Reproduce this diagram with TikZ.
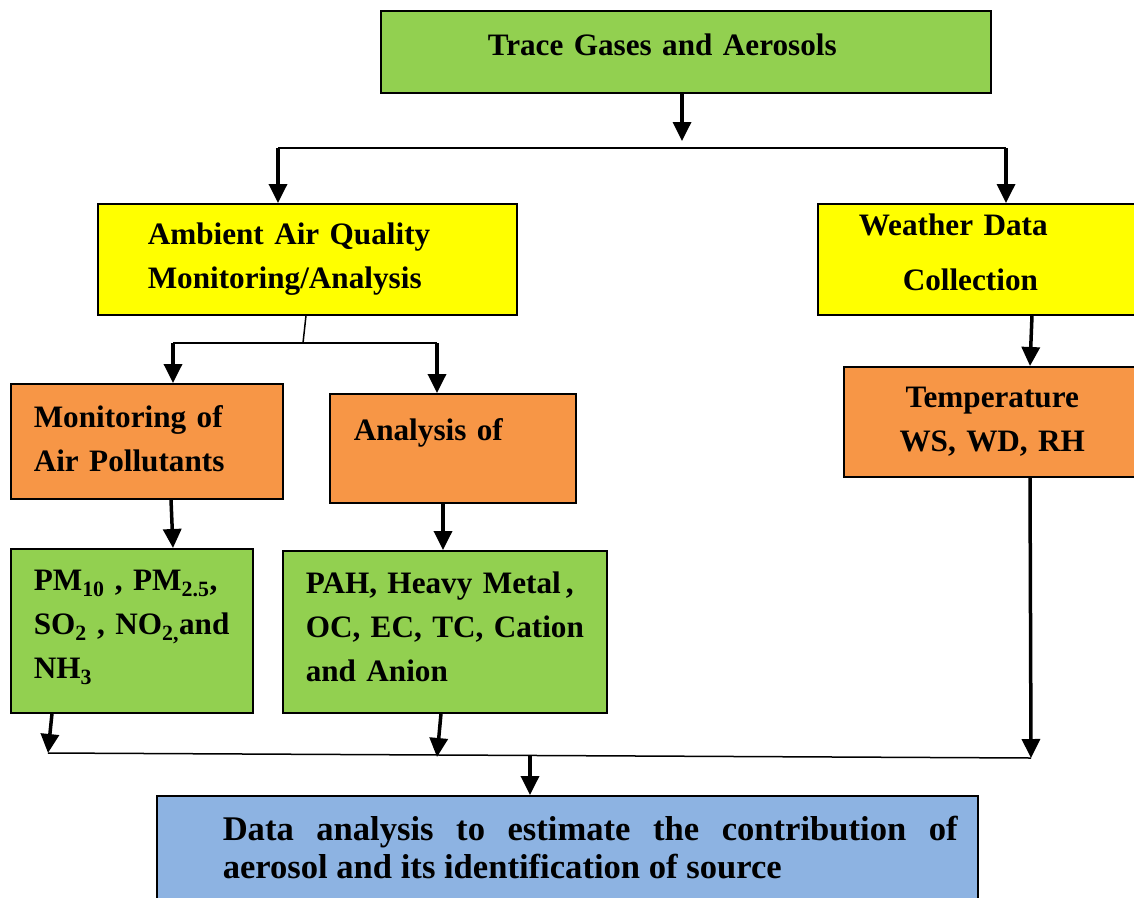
\documentclass[tikz,border=0pt]{standalone}
\usepackage{xcolor}
\usepackage{fontspec}
\setmainfont{Liberation Serif}
\usepackage{tikz}
\usetikzlibrary{calc,positioning,arrows.meta}

\definecolor{boxgreen}{HTML}{92D050}
\definecolor{boxyellow}{HTML}{FFFF00}
\definecolor{boxorange}{HTML}{F79646}
\definecolor{boxblue}{HTML}{8DB3E2}

\tikzset{
    box/.style={draw, line width=1.5pt, anchor=north west, inner xsep=0pt, inner ysep=0pt,
        align=left, font=\bfseries\fontsize{31.2}{44}\selectfont},
    lpad/.style={execute at begin node={\leftskip=#1pt\relax}},
    rpad/.style={execute at begin node={\rightskip=#1pt\relax}, execute at end node={\rightskip=#1pt\relax}},
    wire/.style={line width=1.5pt},
    flow/.style={line width=3.5pt, -{Triangle[width=18pt,length=19pt]}}
}

\begin{document}
\begin{tikzpicture}[x=1pt, y=-1pt]
    \useasboundingbox (0,0) rectangle (1134,897);

    % boxes
    \node [box, fill=boxgreen, text width=610pt, minimum height=82pt, lpad=107] (trace) at (380,10)
        {Trace Gases and Aerosols\rule[-14pt]{0pt}{0pt}};
    \node [box, fill=boxyellow, text width=419pt, minimum height=111pt, lpad=50] (ambient) at (97,203)
        {Ambient Air Quality\\Monitoring/Analysis};
    \node [box, fill=boxyellow, text width=323pt, minimum height=111pt, lpad=41] (weather) at (817,203)
        {Weather Data\\[11pt]\hspace*{44pt}Collection\rule[-14pt]{0pt}{0pt}};
    \node [box, fill=boxorange, text width=272pt, minimum height=115pt, lpad=23] (monitor) at (10,383)
        {Monitoring of\\Air Pollutants\rule[-6pt]{0pt}{0pt}};
    \node [box, fill=boxorange, text width=246pt, minimum height=109pt, lpad=24] (analysis) at (329,393)
        {Analysis of\rule[-37pt]{0pt}{0pt}};
    \node [box, fill=boxorange, text width=297pt, minimum height=110pt, align=center] (met) at (843,366)
        {Temperature\\WS, WD, RH\rule[-4pt]{0pt}{0pt}};
    \node [box, fill=boxgreen, text width=242pt, minimum height=164pt, lpad=23] (pm) at (10,548)
        {PM\textsubscript{10} , PM\textsubscript{2.5},\\SO\textsubscript{2} , NO\textsubscript{2,}and\\NH\textsubscript{3}\rule[-12pt]{0pt}{0pt}};
    \node [box, fill=boxgreen, text width=324pt, minimum height=162pt, lpad=23] (pah) at (282,550)
        {PAH, Heavy Metal\,,\\OC, EC, TC, Cation\\and Anion\rule[-10pt]{0pt}{0pt}};
    \node [box, fill=boxblue, text width=821pt, minimum height=104pt, align=justify, lpad=66, rpad=20,
        font=\bfseries\fontsize{34.6}{38}\selectfont] (result) at (156,795)
        {Data analysis to estimate the contribution of\linebreak aerosol and its identification of source};

    % bus ends
    \coordinate (topmid) at (682,141);
    \coordinate (topL) at (278,148);
    \coordinate (topR) at (1006,148);
    \coordinate (midfork) at (303,343);
    \coordinate (midL) at (173,343);
    \coordinate (midR) at (437,343);
    \coordinate (botL) at (48,753);
    \coordinate (botM) at (437,757);
    \coordinate (botR) at (1031,758);
    \coordinate (botdrop) at (530,756);

    % top split
    \draw[flow] (trace.south -| topmid) -- (topmid);
    \draw[wire] (topL) -- (topR);
    \draw[flow] (topL) -- (topL |- ambient.north);
    \draw[flow] (topR) -- (topR |- weather.north);

    % ambient split
    \draw[wire] ($(ambient.south west)+(209,0)$) -- (midfork);
    \draw[wire] (midL) -- (midR);
    \draw[flow] (midL) -- (midL |- monitor.north);
    \draw[flow] (midR) -- (midR |- analysis.north);

    % down the columns
    \draw[flow] ($(monitor.south west)+(161,0)$) -- ($(pm.north west)+(163,0)$);
    \draw[flow] ($(analysis.south west)+(114,0)$) -- ($(pah.north west)+(161,0)$);
    \draw[flow] ($(weather.south west)+(215,0)$) -- ($(met.north west)+(187,0)$);

    % merge
    \draw[flow] ($(pm.south west)+(42,0)$) -- (botL);
    \draw[flow] ($(pah.south west)+(159,0)$) -- (botM);
    \draw[flow] ($(met.south west)+(187,0)$) -- (botR);
    \draw[wire] (botL) -- (botR);
    \draw[flow] (botdrop) -- (botdrop |- result.north);

\end{tikzpicture}
\end{document}
